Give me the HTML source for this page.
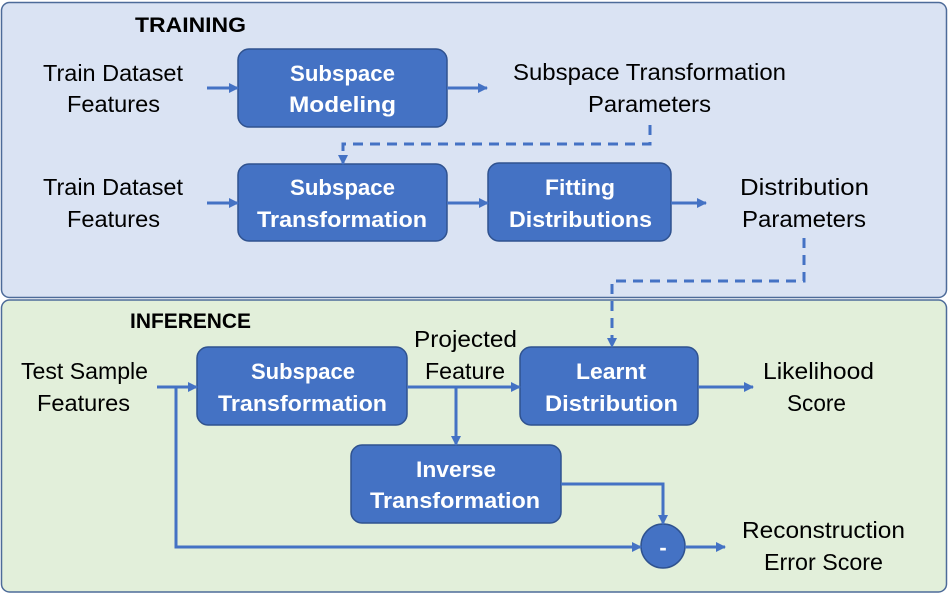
<!DOCTYPE html>
<html><head><meta charset="utf-8"><style>
html,body{margin:0;padding:0;background:#fff;}
svg{display:block;}
text{font-family:"Liberation Sans",sans-serif;}
.t{font-size:23px;fill:#000;}
.b{font-size:22px;fill:#fff;font-weight:bold;}
.h{font-size:21px;fill:#000;font-weight:bold;}
</style></head><body>
<svg width="948" height="594" viewBox="0 0 948 594" xmlns="http://www.w3.org/2000/svg">
<defs>
<marker id="a" markerWidth="10" markerHeight="10" refX="9" refY="5" orient="auto" markerUnits="userSpaceOnUse">
<path d="M0,0 L10,5 L0,10 z" fill="#4472c4"/></marker>
</defs>
<rect x="1.5" y="2.5" width="945" height="295" rx="8" fill="#dae3f3" stroke="#4d6b99" stroke-width="1.5"/>
<rect x="1.5" y="300" width="945" height="292" rx="8" fill="#e2efda" stroke="#4d6b99" stroke-width="1.5"/>

<g fill="#4472c4" stroke="#2f528f" stroke-width="1.5">
<rect x="238" y="49" width="209" height="78" rx="11"/>
<rect x="238" y="164" width="209" height="77" rx="11"/>
<rect x="488" y="163" width="183" height="78" rx="11"/>
<rect x="197" y="347" width="210" height="78" rx="11"/>
<rect x="520" y="347" width="178" height="78" rx="11"/>
<rect x="351" y="445" width="210" height="78" rx="11"/>
<circle cx="663" cy="546" r="22"/>
</g>

<g stroke="#4472c4" stroke-width="3" fill="none">
<line x1="207" y1="88" x2="238" y2="88" marker-end="url(#a)"/>
<line x1="447" y1="88" x2="487" y2="88" marker-end="url(#a)"/>
<line x1="207" y1="203" x2="238" y2="203" marker-end="url(#a)"/>
<line x1="447" y1="203" x2="488" y2="203" marker-end="url(#a)"/>
<line x1="671" y1="203" x2="706" y2="203" marker-end="url(#a)"/>
<polyline points="650,125 650,144 343,144 343,164" stroke-dasharray="10,7" marker-end="url(#a)"/>
<polyline points="804,238 804,281 612,281 612,347" stroke-dasharray="10,7" marker-end="url(#a)"/>
<line x1="157" y1="387" x2="197" y2="387" marker-end="url(#a)"/>
<polyline points="176,387 176,547 641,547" marker-end="url(#a)"/>
<line x1="407" y1="387" x2="520" y2="387" marker-end="url(#a)"/>
<line x1="456" y1="387" x2="456" y2="445" marker-end="url(#a)"/>
<line x1="698" y1="387" x2="753" y2="387" marker-end="url(#a)"/>
<polyline points="561,484 663,484 663,524" marker-end="url(#a)"/>
<line x1="685" y1="547" x2="725" y2="547" marker-end="url(#a)"/>
</g>

<text class="h" x="135" y="32" textLength="111" lengthAdjust="spacingAndGlyphs">TRAINING</text>
<text class="h" x="130" y="328" textLength="121" lengthAdjust="spacingAndGlyphs">INFERENCE</text>

<g class="t">
<text class="t" x="43" y="81" textLength="140" lengthAdjust="spacingAndGlyphs">Train Dataset</text>
<text class="t" x="67" y="112" textLength="93" lengthAdjust="spacingAndGlyphs">Features</text>
<text class="t" x="43" y="195" textLength="140" lengthAdjust="spacingAndGlyphs">Train Dataset</text>
<text class="t" x="67" y="227" textLength="93" lengthAdjust="spacingAndGlyphs">Features</text>
<text class="t" x="513" y="80" textLength="273" lengthAdjust="spacingAndGlyphs">Subspace Transformation</text>
<text class="t" x="588" y="112" textLength="123" lengthAdjust="spacingAndGlyphs">Parameters</text>
<text class="t" x="740" y="195" textLength="129" lengthAdjust="spacingAndGlyphs">Distribution</text>
<text class="t" x="742" y="227" textLength="124" lengthAdjust="spacingAndGlyphs">Parameters</text>
<text class="t" x="21" y="379" textLength="127" lengthAdjust="spacingAndGlyphs">Test Sample</text>
<text class="t" x="37" y="411" textLength="93" lengthAdjust="spacingAndGlyphs">Features</text>
<text class="t" x="414" y="347" textLength="103" lengthAdjust="spacingAndGlyphs">Projected</text>
<text class="t" x="425" y="379" textLength="80" lengthAdjust="spacingAndGlyphs">Feature</text>
<text class="t" x="763" y="379" textLength="111" lengthAdjust="spacingAndGlyphs">Likelihood</text>
<text class="t" x="787" y="411" textLength="59" lengthAdjust="spacingAndGlyphs">Score</text>
<text class="t" x="742" y="538" textLength="163" lengthAdjust="spacingAndGlyphs">Reconstruction</text>
<text class="t" x="764" y="570" textLength="119" lengthAdjust="spacingAndGlyphs">Error Score</text>
</g>

<text class="b" x="290" y="81" textLength="105" lengthAdjust="spacingAndGlyphs">Subspace</text>
<text class="b" x="289" y="112" textLength="107" lengthAdjust="spacingAndGlyphs">Modeling</text>
<text class="b" x="290" y="195" textLength="105" lengthAdjust="spacingAndGlyphs">Subspace</text>
<text class="b" x="257" y="227" textLength="170" lengthAdjust="spacingAndGlyphs">Transformation</text>
<text class="b" x="545" y="195" textLength="70" lengthAdjust="spacingAndGlyphs">Fitting</text>
<text class="b" x="509" y="227" textLength="143" lengthAdjust="spacingAndGlyphs">Distributions</text>
<text class="b" x="251" y="379" textLength="104" lengthAdjust="spacingAndGlyphs">Subspace</text>
<text class="b" x="218" y="411" textLength="169" lengthAdjust="spacingAndGlyphs">Transformation</text>
<text class="b" x="576" y="379" textLength="70" lengthAdjust="spacingAndGlyphs">Learnt</text>
<text class="b" x="545" y="411" textLength="133" lengthAdjust="spacingAndGlyphs">Distribution</text>
<text class="b" x="416" y="477" textLength="80" lengthAdjust="spacingAndGlyphs">Inverse</text>
<text class="b" x="370" y="508" textLength="170" lengthAdjust="spacingAndGlyphs">Transformation</text>
<text class="b" x="663" y="555" text-anchor="middle">-</text>
</svg>
</body></html>
